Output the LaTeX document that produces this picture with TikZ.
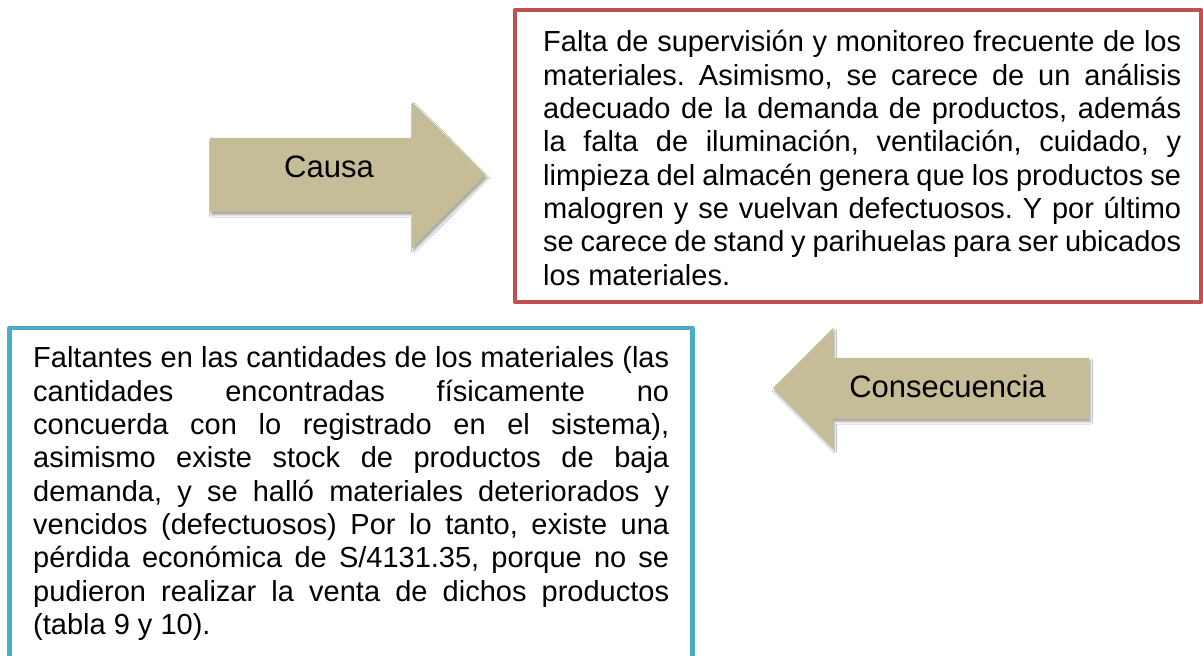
\documentclass[tikz,border=0pt]{standalone}
\usepackage{fontspec}
\setmainfont{Liberation Sans}
\usetikzlibrary{shadows.blur}
\definecolor{tanfill}{HTML}{C4BD97}
\definecolor{redframe}{HTML}{C0504D}
\definecolor{blueframe}{HTML}{4BACC6}
\tikzset{
  arrowshape/.style={fill=tanfill, draw=none, blur shadow={shadow xshift=1.5pt, shadow yshift=-3pt, shadow blur steps=6, shadow opacity=35}},
  frame/.style={line width=4.6pt, line join=round},
  arrowlabel/.style={anchor=base, inner sep=0pt, font=\fontsize{31}{36}\selectfont},
  bodytext/.style={anchor=base west, inner sep=0pt}
}
\newcommand{\bodypar}[2]{\parbox[t]{#1}{\fontsize{29}{33.3}\selectfont\frenchspacing\parindent=0pt\tolerance=10000\hyphenpenalty=10000 #2}}
\begin{document}
\begin{tikzpicture}[x=1pt,y=1pt]
\useasboundingbox (0,0) rectangle (1203,656);
\clip (0,0) rectangle (1203,656);
\fill[white] (0,0) rectangle (1203,656);
% Causa arrow
\path[arrowshape] (210,518) -- (412,518) -- (412,554) -- (486,481) -- (412,408) -- (412,444) -- (210,444) -- cycle;
\node[arrowlabel] (causa) at (329,478) {Causa};
% Consecuencia arrow
\path[arrowshape] (1089,298) -- (833,298) -- (833,328) -- (773,268) -- (833,208) -- (833,237) -- (1089,237) -- cycle;
\node[arrowlabel] (consecuencia) at (947.5,258) {Consecuencia};
% red box
\draw[frame, draw=redframe, fill=white] (515,646) rectangle (1201,354);
\node[bodytext] (causatext) at (543,604) {\bodypar{638pt}{Falta de supervisión y monitoreo frecuente de los\linebreak
materiales. Asimismo, se carece de un análisis\linebreak
adecuado de la demanda de productos, además\linebreak
la falta de iluminación, ventilación, cuidado, y\linebreak
limpieza del almacén genera que los productos se\linebreak
malogren y se vuelvan defectuosos. Y por último\linebreak
se carece de stand y parihuelas para ser ubicados\linebreak
los materiales.}};
% blue box
\draw[frame, draw=blueframe, fill=white] (9.5,328) rectangle (692.5,-20);
\node[bodytext] (consecuenciatext) at (33,288) {\bodypar{636pt}{Faltantes en las cantidades de los materiales (las\linebreak
cantidades encontradas físicamente no\linebreak
concuerda con lo registrado en el sistema),\linebreak
asimismo existe stock de productos de baja\linebreak
demanda, y se halló materiales deteriorados y\linebreak
vencidos (defectuosos) Por lo tanto, existe una\linebreak
pérdida económica de S/4131.35, porque no se\linebreak
pudieron realizar la venta de dichos productos\linebreak
(tabla 9 y 10).}};
\end{tikzpicture}
\end{document}
